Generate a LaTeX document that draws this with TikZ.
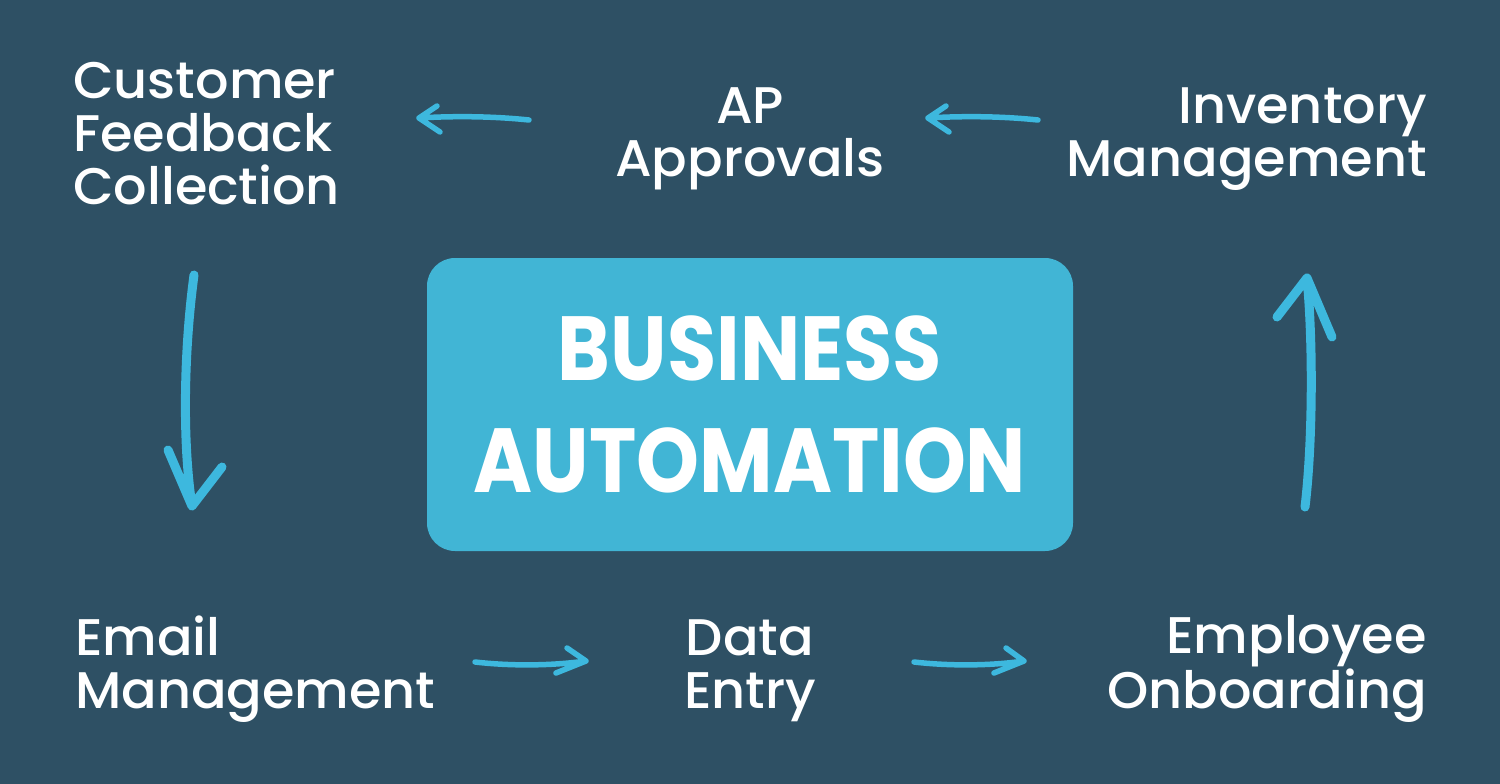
\documentclass[tikz,border=0pt]{standalone}
\usepackage{fontspec}
\setmainfont{Poppins Medium}[FakeStretch=1.02]
\newfontfamily\titlefont{Poppins}[FakeStretch=0.88]
\definecolor{bg}{HTML}{2E5064}
\definecolor{boxc}{HTML}{41B5D5}
\definecolor{arr}{HTML}{3DB8DE}
\begin{document}
\begin{tikzpicture}[x=1pt,y=-1pt,
  lbl/.style={text=white,inner sep=0pt,font=\fontsize{51.5}{53}\selectfont},
  hand/.style={draw=arr,line cap=round,line join=round},
  thin/.style={hand,line width=5.5pt},
  thick/.style={hand,line width=9pt}]
\fill[bg] (0,0) rectangle (1500,784);
\useasboundingbox (0,0) rectangle (1500,784);
% center box
\node[fill=boxc,rounded corners=28pt,minimum width=646pt,minimum height=293pt,inner sep=0pt] (center) at (750,404.5) {};
\node[text=white,inner sep=0pt,align=center,font=\titlefont\bfseries\fontsize{91}{112}\selectfont,anchor=base] (title) at (750,492) {BUSINESS\\AUTOMATION};
% labels (anchored at the baseline of their last line)
\node[lbl,align=left,anchor=base west] (cfc) at (73,204) {Customer\\Feedback\\Collection};
\node[lbl,align=center,anchor=base] (ap) at (750,176) {AP\\Approvals};
\node[lbl,align=right,anchor=base east] (inv) at (1427,176) {Inventory\\Management};
\node[lbl,align=left,anchor=base west] (email) at (75,708) {Email\\Management};
\node[lbl,align=center,anchor=base] (data) at (750,708) {Data\\Entry};
\node[lbl,align=right,anchor=base east] (emp) at (1427,708) {Employee\\Onboarding};
% arrow end points
\coordinate (a1s) at (1038,120); \coordinate (a1e) at (928,118);
\coordinate (a2s) at (529,120);  \coordinate (a2e) at (419,118);
\coordinate (a3s) at (194,275);  \coordinate (a3e) at (192,506);
\coordinate (a4s) at (475,662);  \coordinate (a4e) at (586,661);
\coordinate (a5s) at (914,662);  \coordinate (a5e) at (1024,661);
\coordinate (a6s) at (1305,507); \coordinate (a6e) at (1307,278);
% Inventory -> AP
\draw[thin] (a1s) .. controls (1000,116) and (960,116) .. (a1e) -- ++(18,-12) (a1e) -- ++(21,14);
% AP -> Customer
\draw[thin] (a2s) .. controls (491,116) and (451,116) .. (a2e) -- ++(18,-12) (a2e) -- ++(21,14);
% Customer -> Email
\draw[thick] (a3s) .. controls (184,350) and (182,440) .. (a3e) -- ++(-24,-56) (a3e) -- ++(30,-39);
% Email -> Data
\draw[thin] (a4s) .. controls (510,666) and (550,666) .. (a4e) -- ++(-19,-13) (a4e) -- ++(-30,12);
% Data -> Employee
\draw[thin] (a5s) .. controls (949,666) and (989,666) .. (a5e) -- ++(-18,-13) (a5e) -- ++(-30,12);
% Employee -> Inventory
\draw[thick] (a6s) .. controls (1313,440) and (1313,340) .. (a6e) -- ++(-30,39) (a6e) -- ++(25,59);
\end{tikzpicture}
\end{document}
